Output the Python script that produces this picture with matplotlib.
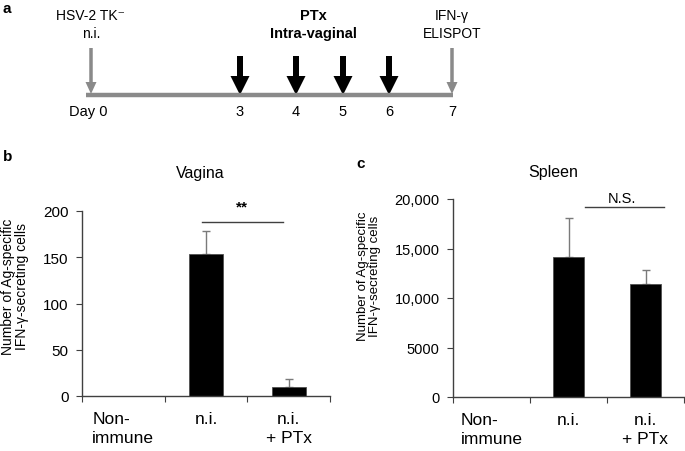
import matplotlib.pyplot as plt
import numpy as np

plt.rcParams['font.family'] = ['Liberation Sans', 'DejaVu Sans']

# Bar data
categories = ['Non-\nimmune', 'n.i.', 'n.i.\n+ PTx']
vagina_mean = [0, 153, 10]
vagina_err = [0, 25, 8]
spleen_mean = [0, 14100, 11400]
spleen_err = [0, 4000, 1400]

# Timeline (schematic)
day_labels = ['Day 0', '3', '4', '5', '6', '7']
day_x = [91, 240, 296, 343, 389, 452]   # layout positions in pixels
ptx_days = ['3', '4', '5', '6']

fig = plt.figure(figsize=(6.85, 4.52), dpi=100)

# ---- panel a: overlay axes in pixel units ----
ov = fig.add_axes([0, 0, 1, 1])
ov.set_xlim(0, 685)
ov.set_ylim(452, 0)
ov.axis('off')

grey = '#8a8a8a'
ov.plot([86, 453], [96, 96], color=grey, lw=3.2, solid_capstyle='butt')
for lab, x in zip(day_labels, day_x):
    ov.text(x - 3 if lab == 'Day 0' else x, 112, lab, ha='center', va='center', fontsize=10.5)
    if lab in ptx_days:
        ov.arrow(x, 57, 0, 39, width=6, head_width=19, head_length=19,
                 length_includes_head=True, color='black', lw=0)
    else:
        ov.arrow(x, 49, 0, 46, width=3.5, head_width=11, head_length=12,
                 length_includes_head=True, color=grey, lw=0)

ov.text(91, 16, 'HSV-2 TK\u207b', ha='center', va='center', fontsize=10)
ov.text(91, 34, 'n.i.', ha='center', va='center', fontsize=10)
ov.text(313, 16, 'PTx', ha='center', va='center', fontsize=10.5, fontweight='bold')
ov.text(313, 34, 'Intra-vaginal', ha='center', va='center', fontsize=10.5, fontweight='bold')
ov.text(452, 16, 'IFN-\u03b3', ha='center', va='center', fontsize=10)
ov.text(452, 34, 'ELISPOT', ha='center', va='center', fontsize=10)

ov.text(3, 9, 'a', ha='left', va='center', fontsize=11, fontweight='bold')
ov.text(3, 157, 'b', ha='left', va='center', fontsize=11, fontweight='bold')
ov.text(356, 164, 'c', ha='left', va='center', fontsize=11, fontweight='bold')

spine_col = '#404040'


def bar_panel(ax, means, errs, ymax, yticks, yticklabels, tick_fs, title, title_xy,
              label_xy, label_fs):
    x = np.arange(len(categories))
    ax.bar(x, means, width=0.41, color='black', edgecolor='#505050', lw=0.6, zorder=2)
    m = np.array(means)
    e = np.array(errs)
    keep = e > 0
    ax.errorbar(x[keep], m[keep], yerr=[np.zeros(keep.sum()), e[keep]], fmt='none',
                ecolor='#7a7a7a', elinewidth=1, capsize=3, capthick=1, zorder=1)
    ax.set_xlim(-0.5, len(categories) - 0.5)
    ax.set_ylim(0, ymax)
    ax.set_yticks(yticks)
    ax.set_yticklabels(yticklabels, fontsize=tick_fs)
    ax.set_xticks(np.arange(len(categories) + 1) - 0.5, minor=False)
    ax.set_xticklabels([])
    ax.set_xticks(x, minor=True)
    ax.set_xticklabels(categories, minor=True, fontsize=12.5, va='top', linespacing=1.3)
    ax.tick_params(axis='x', which='minor', length=0, pad=11)
    ax.tick_params(axis='x', which='major', length=4, color=spine_col)
    ax.tick_params(axis='y', length=4, color=spine_col, pad=5.5)
    ax.get_xticklabels(minor=True)[0].set_multialignment('left')
    for s in ['top', 'right']:
        ax.spines[s].set_visible(False)
    for s in ['left', 'bottom']:
        ax.spines[s].set_color(spine_col)
        ax.spines[s].set_linewidth(1)
    ax.set_ylabel('Number of Ag-specific\nIFN-\u03b3-secreting cells', fontsize=label_fs,
                  linespacing=1.0)
    ax.yaxis.set_label_coords(*label_xy)
    ax.text(title_xy[0], title_xy[1], title, transform=ax.transAxes,
            ha='center', va='center', fontsize=11.5)


ax_b = fig.add_axes([82 / 685, 55 / 452, 248 / 685, 185 / 452])
bar_panel(ax_b, vagina_mean, vagina_err, 200, [0, 50, 100, 150, 200],
          ['0', '50', '100', '150', '200'], 11, 'Vagina', (0.476, 1.21), (-0.214, 0.595), 10)
ax_b.plot([0.95, 1.93], [188, 188], color=spine_col, lw=1, clip_on=False)
ax_b.text(1.44, 205, '**', ha='center', va='center', fontsize=11, fontweight='bold')

ax_c = fig.add_axes([453 / 685, 54 / 452, 231 / 685, 198 / 452])
bar_panel(ax_c, spleen_mean, spleen_err, 20000, [0, 5000, 10000, 15000, 20000],
          ['0', '5000', '10,000', '15,000', '20,000'], 10.5, 'Spleen', (0.433, 1.14),
          (-0.31, 0.616), 9.5)
ax_c.plot([1.21, 2.24], [19220, 19220], color=spine_col, lw=1, clip_on=False)
ax_c.text(1.70, 20150, 'N.S.', ha='center', va='center', fontsize=10.5)

fig.savefig('out.png', dpi=100)
